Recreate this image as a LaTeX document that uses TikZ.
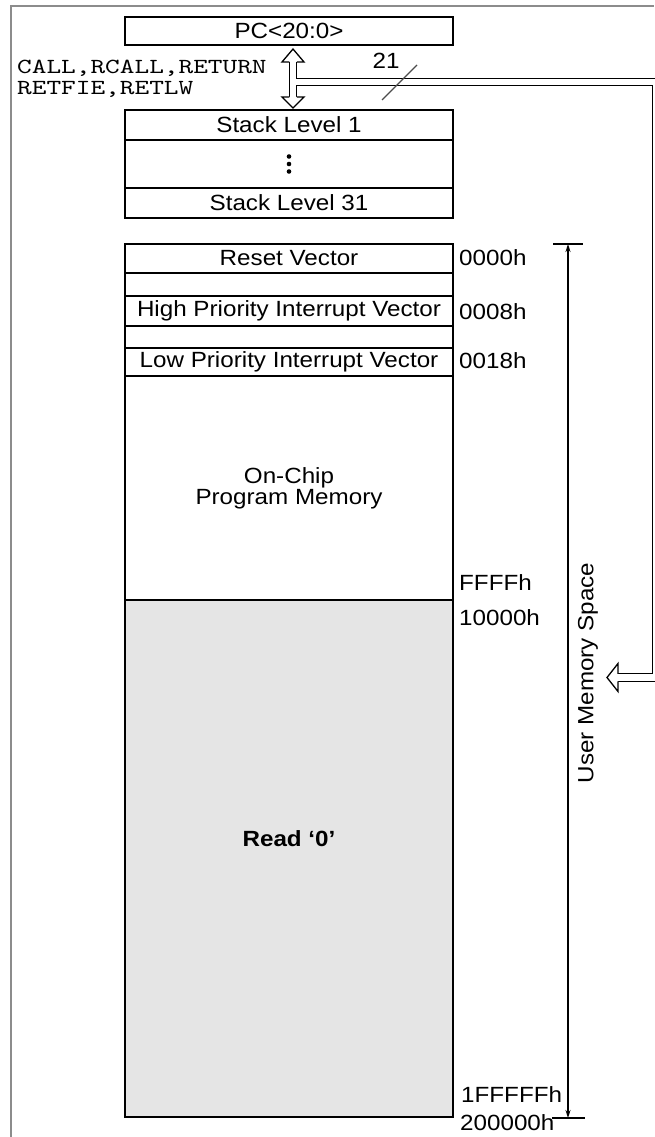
\documentclass[tikz,border=0pt]{standalone}
\usepackage{fontspec}
\setmainfont{Liberation Sans}[FakeStretch=1.1]
\newfontfamily\codefont{lmmono10-regular.otf}[FakeStretch=1.3]
\usetikzlibrary{positioning,arrows.meta,calc}

\tikzset{
  memrow/.style={draw, line width=1.3pt, minimum width=328pt, inner sep=0pt, outer sep=0pt,
    font=\fontsize{22}{21}\selectfont},
  addr/.style={anchor=west, inner sep=0pt, font=\fontsize{22}{21}\selectfont},
  hollowbus/.style={draw=white, line width=6.2pt, line join=miter,
    preaction={draw=black, line width=8.8pt, line join=miter}},
  hollowhead/.style={draw, fill=white, line width=1.3pt, line join=miter},
}

\begin{document}
\begin{tikzpicture}[x=1pt, y=-1pt]
	\useasboundingbox (0,0) rectangle (654,1137);
	\draw[gray!90, line width=2pt] (11,1137) -- (11,6) -- (654,6);

	% program counter and return stack
	\node[memrow, minimum height=28pt, anchor=north west] (pc) at (125,17) {PC<20:0>};
	\node[memrow, minimum height=30pt, anchor=north west] (sl1) at (125,110) {Stack Level 1};
	\node[memrow, minimum height=48pt, below=0pt of sl1] (dots) {};
	\node[memrow, minimum height=30pt, below=0pt of dots] (sl31) {Stack Level 31};
	\foreach \dy in {-7.5,0,7.5}
		\fill ([yshift=\dy pt]dots.center) circle (2.3pt);

	\node[anchor=west, align=left, inner sep=0pt, font=\codefont\fontsize{21.5}{21.5}\selectfont] (retops) at (17,79) {CALL,RCALL,RETURN\\RETFIE,RETLW};

	% hollow bus: stack <-> PC, and PC -> memory
	\coordinate (stup) at (293,49);
	\coordinate (stdn) at (293,108);
	\coordinate (stj) at (293,82);
	\coordinate (busr) at (656,82);
	\coordinate (busd) at (656,677.5);
	\coordinate (memin) at (607,677.5);
	\draw[hollowbus] ($(stup)+(0,13)$) -- ($(stdn)+(0,-11)$)
		(stj) -- (busr) -- (busd) -- ($(memin)+(11,0)$);
	\draw[hollowhead] ($(stup)+(-3.75,13)$) -- ($(stup)+(-11,13)$) -- (stup) -- ($(stup)+(11,13)$) -- ($(stup)+(3.75,13)$);
	\draw[hollowhead] ($(stdn)+(-3.75,-11)$) -- ($(stdn)+(-11,-11)$) -- (stdn) -- ($(stdn)+(11,-11)$) -- ($(stdn)+(3.75,-11)$);
	\draw[hollowhead] ($(memin)+(11,-3.75)$) -- ($(memin)+(11,-14)$) -- (memin) -- ($(memin)+(11,14)$) -- ($(memin)+(11,3.75)$);

	\draw[black!70, line width=1.2pt] (382,100) -- (417,65);
	\node[font=\fontsize{22}{21}\selectfont, inner sep=0pt] (buswidth) at (386,61) {21};

	% program memory map
	\node[memrow, minimum height=29pt, anchor=north west] (reset) at (125,244) {Reset Vector};
	\node[memrow, minimum height=23pt, below=0pt of reset] (gapa) {};
	\node[memrow, minimum height=30pt, below=0pt of gapa] (high) {High Priority Interrupt Vector};
	\node[memrow, minimum height=22pt, below=0pt of high] (gapb) {};
	\node[memrow, minimum height=28pt, below=0pt of gapb] (low) {Low Priority Interrupt Vector};
	\node[memrow, minimum height=224pt, below=0pt of low, align=center] (onchip) {On-Chip\\Program Memory};
	\node[memrow, minimum height=517pt, below=0pt of onchip, fill=gray!20] (rzero) {};
	\node[font=\fontsize{22}{21}\selectfont\bfseries] (rlabel) at ([yshift=20pt]rzero.center) {Read `0'};

	\node[addr] (a0) at (459,258) {0000h};
	\node[addr] (a8) at (459,312) {0008h};
	\node[addr] (a18) at (459,361) {0018h};
	\node[addr] (affff) at (459,583) {FFFFh};
	\node[addr] (a10000) at (459,618) {10000h};
	\node[addr] (a1fffff) at (461,1095) {1FFFFFh};
	\node[addr] (a200000) at (460,1123) {200000h};

	% user memory space
	\coordinate (umtop) at (568,244);
	\coordinate (umbot) at (568,1118);
	\draw[line width=1.3pt] ($(umtop)+(-15,0)$) -- ($(umtop)+(15,0)$);
	\draw[line width=1.3pt] ($(umbot)+(-16,0)$) -- ($(umbot)+(17,0)$);
	\draw[line width=1.3pt, <->, >={Stealth[length=8pt, width=5pt]}] (umtop) -- (umbot);
	\node[rotate=90, inner sep=0pt, font=\fontsize{22}{21}\selectfont] (umlabel) at (588,673) {User Memory Space};
\end{tikzpicture}
\end{document}
